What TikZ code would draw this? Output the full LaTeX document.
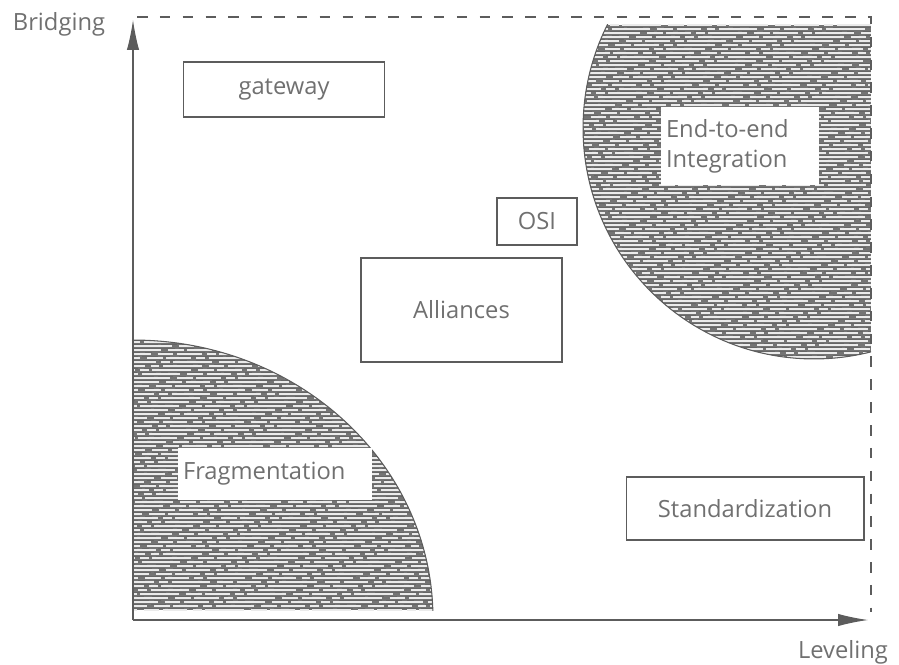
\documentclass[tikz,border=0pt]{standalone}
\usepackage{fontspec}
\setmainfont{Open Sans}
\usetikzlibrary{positioning}
\usetikzlibrary{arrows.meta}
\definecolor{ink}{HTML}{5C5C5C}
\definecolor{txt}{HTML}{707070}
\definecolor{hatch}{HTML}{747474}

% streaky grey texture between x=#1..#2 and y=#3..#4 (clip first)
\newcommand{\streaks}[4]{%
  \fill[hatch] (#1,#3) rectangle (#2,#4);
  \foreach \k in {0,...,160} {
    \pgfmathsetmacro\yy{#3+4*\k}
    \pgfmathsetmacro\ph{mod(\k*53,47)}
    \pgfmathsetmacro\phb{mod(\k*31,41)}
    \draw[white!92!black, line width=1pt,
          dash pattern=on 14pt off 3pt on 5pt off 2pt on 22pt off 4pt on 9pt off 2pt,
          dash phase=\ph pt] (#1,\yy) -- (#2,\yy);
    \draw[black!60, line width=0.5pt,
          dash pattern=on 25pt off 2pt on 9pt off 3pt on 4pt off 5pt,
          dash phase=\phb pt] (#1,\yy+2) -- (#2,\yy+2);
  }}

\begin{document}
\begin{tikzpicture}[x=0.02cm, y=-0.02cm,
                    lbl/.style={font=\fontsize{13.5}{17}\selectfont, text=txt},
                    box/.style={lbl, draw=ink, line width=0.6pt, inner sep=0pt},
                    hole/.style={lbl, fill=white, inner sep=3pt},
                    axis/.style={ink, line width=0.6pt, -{Latex[length=17pt, width=7pt]}},
                    frame/.style={ink, line width=0.6pt, dash pattern=on 6pt off 7pt}]

  \useasboundingbox (0,0) rectangle (899,665);

  % shaded regions
  \begin{scope}
    \clip (133,300) rectangle (440,610);
    \clip (133,618) ellipse [x radius=6cm, y radius=5.56cm];
    \streaks{133}{440}{330}{610}
  \end{scope}
  \begin{scope}
    \clip (133,300) rectangle (440,610);
    \draw[ink, line width=0.6pt] (133,618) ellipse [x radius=6cm, y radius=5.56cm];
  \end{scope}
  \begin{scope}
    \clip (580,25) rectangle (871,362);
    \clip (814,128) circle [radius=4.62cm];
    \streaks{580}{871}{25}{362}
  \end{scope}
  \begin{scope}
    \clip (580,25) rectangle (871,362);
    \draw[ink, line width=0.6pt] (814,128) circle [radius=4.62cm];
  \end{scope}

  % axes and frame
  \coordinate (o) at (133,620);
  \coordinate (ytip) at (133,20);
  \coordinate (xtip) at (868,620);
  \coordinate (tl) at (137,17);
  \coordinate (tr) at (871,17);
  \coordinate (br) at (871,612);
  \draw[axis] (o) -- (ytip);
  \draw[axis] (o) -- (xtip);
  \draw[frame] (tl) -- (tr) -- (br);

  \node[lbl] (bridge) at (59,24) {Bridging};
  \node[lbl] (level) at (843,652) {Leveling};

  \node[box, minimum width=4.02cm, minimum height=1.1cm]  (gw)   at (284,89.5)  {gateway};
  \node[box, minimum width=1.6cm,  minimum height=0.94cm] (osi)  at (537,221.5) {OSI};
  \node[box, minimum width=4.02cm, minimum height=2.08cm] (alli) at (461.5,310) {Alliances};
  \node[box, minimum width=4.76cm, minimum height=1.26cm] (std)  at (745,508.5) {Standardization};

  \node[hole, text width=2.96cm, minimum height=1.56cm, align=left] (e2e)  at (740,146)
    {End-to-end\\Integration};
  \node[hole, text width=3.68cm, minimum height=1.04cm, align=left] (frag) at (275,474)
    {Fragmentation};

\end{tikzpicture}
\end{document}
